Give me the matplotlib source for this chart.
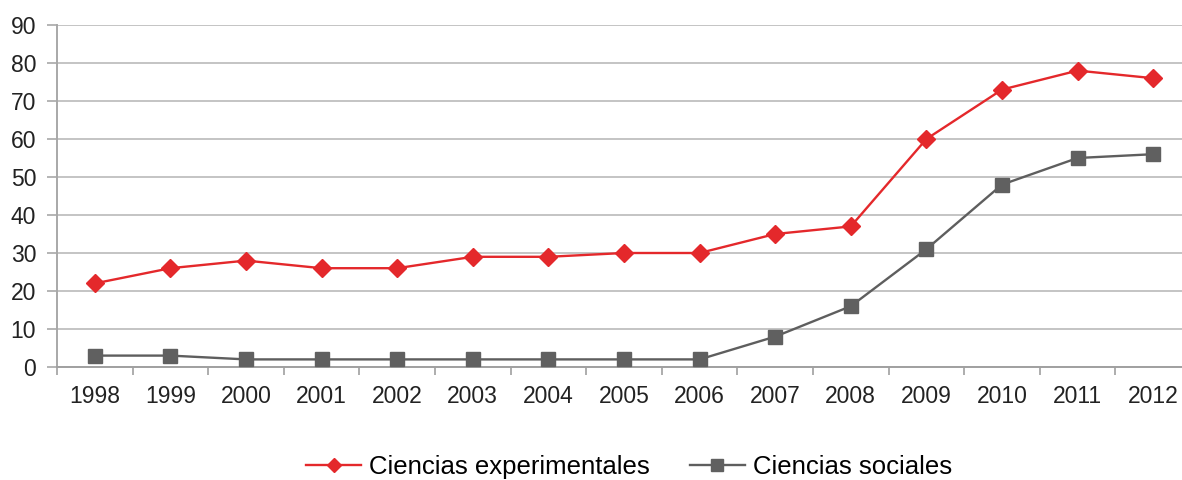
import matplotlib
matplotlib.use("Agg")
import matplotlib.pyplot as plt
import numpy as np

years = ["1998", "1999", "2000", "2001", "2002", "2003", "2004", "2005",
         "2006", "2007", "2008", "2009", "2010", "2011", "2012"]
experimentales = [22, 26, 28, 26, 26, 29, 29, 30, 30, 35, 37, 60, 73, 78, 76]
sociales = [3, 3, 2, 2, 2, 2, 2, 2, 2, 8, 16, 31, 48, 55, 56]
y_ticks = [0, 10, 20, 30, 40, 50, 60, 70, 80, 90]
labels = ["Ciencias experimentales", "Ciencias sociales"]

plt.rcParams['font.family'] = ['Liberation Sans', 'DejaVu Sans']

fig = plt.figure(figsize=(11.82, 4.8), dpi=100)
ax = fig.add_axes([57/1182, 113/480, (1191-57)/1182, (367-25)/480])

x = np.arange(len(years))
ax.plot(x, experimentales, color="#e4282b", lw=1.7, marker="D", ms=9.5,
        markerfacecolor="#e4282b", markeredgecolor="#e4282b", label=labels[0], zorder=3)
ax.plot(x, sociales, color="#5e5e5e", lw=1.7, marker="s", ms=10,
        markerfacecolor="#606060", markeredgecolor="#606060", label=labels[1], zorder=3)

ax.set_xlim(-0.5, len(years) - 0.5)
ax.set_ylim(0, 90)
ax.set_yticks(y_ticks)
ax.set_yticklabels([str(v) for v in y_ticks], fontsize=16.5, color="#222222")
ax.yaxis.grid(True, color="#c4c4c4", lw=1.4)
ax.set_axisbelow(True)

ax.set_xticks(np.arange(-0.5, len(years), 1.0))
ax.set_xticklabels([])
ax.set_xticks(x, minor=True)
ax.set_xticklabels(years, minor=True, fontsize=16.5, color="#222222")
ax.tick_params(axis="x", which="major", length=6, color="#a0a0a0", width=1.2, direction="out")
ax.tick_params(axis="x", which="minor", length=0, pad=13)
ax.tick_params(axis="y", length=7, color="#a8a8a8", width=1.2, pad=8)

for s in ["top", "right"]:
    ax.spines[s].set_visible(False)
ax.spines["left"].set_color("#a8a8a8")
ax.spines["left"].set_linewidth(1.4)
ax.spines["bottom"].set_color("#a0a0a0")
ax.spines["bottom"].set_linewidth(1.4)

fig.legend(loc="center", bbox_to_anchor=(0.532, 0.027), ncol=2, frameon=False,
           fontsize=18.5, handlelength=2.15, handletextpad=0.3, columnspacing=1.55,
           markerscale=0.8)

fig.savefig("out.png", dpi=100)
